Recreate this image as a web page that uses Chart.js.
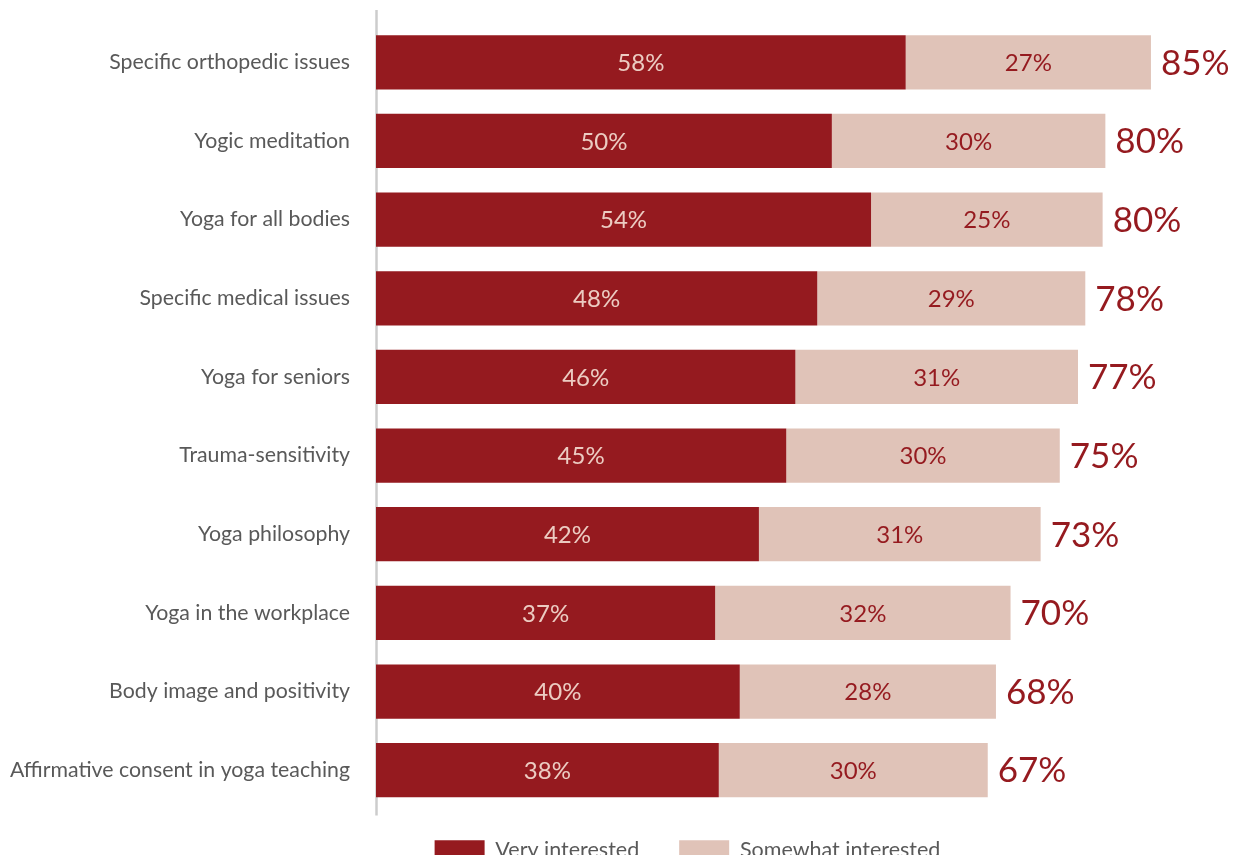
<!DOCTYPE html>
<html>
<head>
<meta charset="utf-8">
<script src="https://cdn.jsdelivr.net/npm/chart.js@4.4.1/dist/chart.umd.min.js"></script>
<style>
    html, body { margin: 0; padding: 0; background: #ffffff; overflow: hidden; }
    #wrap { position: relative; width: 1233px; height: 881px; }
</style>
</head>
<body>
<div id="wrap"><canvas id="interest-chart"></canvas></div>
<script>
// categories, top to bottom
var categories = [
    'Specific orthopedic issues',
    'Yogic meditation',
    'Yoga for all bodies',
    'Specific medical issues',
    'Yoga for seniors',
    'Trauma-sensitivity',
    'Yoga philosophy',
    'Yoga in the workplace',
    'Body image and positivity',
    'Affirmative consent in yoga teaching'
];

// share of respondents (%)
var veryInterested = [58.1, 50.0, 54.3, 48.4, 46.0, 45.0, 42.0, 37.2, 39.9, 37.6];
var somewhatInterested = [26.9, 30.0, 25.4, 29.4, 31.0, 30.0, 30.9, 32.4, 28.1, 29.5];

var seriesNames = ['Very interested', 'Somewhat interested'];

var darkRed = '#951a1f';
var lightPink = '#e0c3b8';
var labelGrey = '#595959';
var fontFamily = 'Lato, "Open Sans", sans-serif';

// vertical axis line, runs a bit past the plot area like the original
var axisLinePlugin = {
    id: 'axisLine',
    beforeDatasetsDraw: function (chart) {
        let ctx = chart.ctx;
        let area = chart.chartArea;
        ctx.save();
        ctx.strokeStyle = '#cccccc';
        ctx.lineWidth = 2.5;
        ctx.beginPath();
        ctx.moveTo(area.left + 0.5, area.top - 13);
        ctx.lineTo(area.left + 0.5, area.bottom + 6);
        ctx.stroke();
        ctx.restore();
    }
};

// legend sits a little right of the canvas centre and close under the bars
var legendShiftPlugin = {
    id: 'legendShift',
    afterLayout: function (chart) {
        chart.legend.left = 142;
        chart.legend.top -= 10;
    }
};

// percentages inside the segments and totals after the bars
var valueLabelPlugin = {
    id: 'valueLabels',
    afterDatasetsDraw: function (chart) {
        let ctx = chart.ctx;
        ctx.save();
        ctx.textBaseline = 'middle';

        chart.data.datasets.forEach(function (ds, d) {
            let meta = chart.getDatasetMeta(d);
            ctx.font = '400 24px ' + fontFamily;
            ctx.textAlign = 'center';
            ctx.fillStyle = d === 0 ? '#ecccc2' : darkRed;
            meta.data.forEach(function (bar, i) {
                let mid = (bar.x + bar.base) / 2;
                ctx.fillText(Math.round(ds.data[i]) + '%', mid, bar.y + 1);
            });
        });

        let lastMeta = chart.getDatasetMeta(chart.data.datasets.length - 1);
        ctx.font = '400 35px ' + fontFamily;
        ctx.textAlign = 'left';
        ctx.fillStyle = darkRed;
        lastMeta.data.forEach(function (bar, i) {
            let total = Math.round(veryInterested[i] + somewhatInterested[i]);
            ctx.fillText(total + '%', bar.x + 10, bar.y + 1);
        });

        ctx.restore();
    }
};

let ctx = document.getElementById('interest-chart').getContext('2d');

let chart = new Chart(ctx, {
    type: 'bar',
    data: {
        labels: categories,
        datasets: [{
            label: seriesNames[0],
            data: veryInterested,
            backgroundColor: darkRed,
            borderWidth: 0,
            barPercentage: 0.69,
            categoryPercentage: 1
        }, {
            label: seriesNames[1],
            data: somewhatInterested,
            backgroundColor: lightPink,
            borderWidth: 0,
            barPercentage: 0.69,
            categoryPercentage: 1
        }]
    },
    options: {
        indexAxis: 'y',
        responsive: true,
        maintainAspectRatio: false,
        animation: false,
        layout: {
            padding: { top: 23, left: 0, right: 0, bottom: 0 }
        },
        scales: {
            x: {
                stacked: true,
                display: false,
                min: 0,
                max: 94
            },
            y: {
                stacked: true,
                grid: { display: false, drawTicks: false },
                border: { display: false },
                ticks: {
                    color: labelGrey,
                    padding: 26,
                    font: { family: fontFamily, size: 21.3 }
                },
                afterFit: function (scale) {
                    scale.width = 376;
                    scale.paddingTop = 0;
                    scale.paddingBottom = 0;
                }
            }
        },
        plugins: {
            legend: {
                position: 'bottom',
                labels: {
                    boxWidth: 50,
                    boxHeight: 20,
                    padding: 40,
                    color: labelGrey,
                    font: { family: fontFamily, size: 21.5 }
                }
            },
            tooltip: { enabled: false }
        }
    },
    plugins: [axisLinePlugin, legendShiftPlugin, valueLabelPlugin]
});
</script>
</body>
</html>
